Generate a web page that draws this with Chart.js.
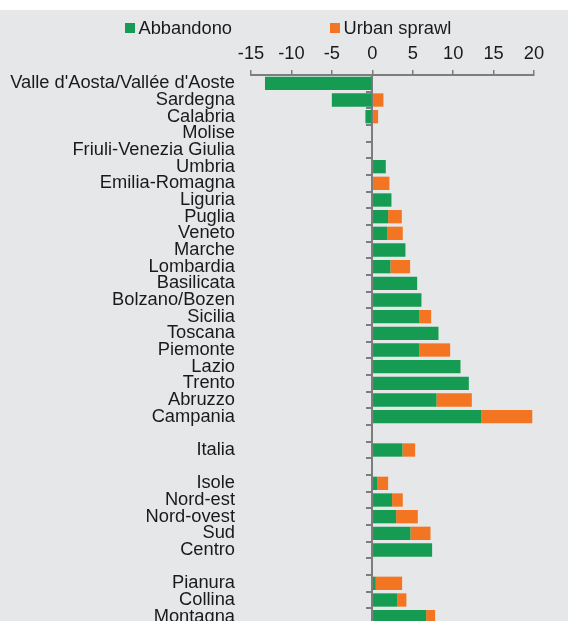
<!DOCTYPE html>
<html>
<head>
<meta charset="utf-8">
<script src="https://cdn.jsdelivr.net/npm/chart.js@4.4.1/dist/chart.umd.min.js"></script>
<style>
  html, body { margin: 0; padding: 0; overflow: hidden; background: #ffffff; }
  canvas { display: block; }
</style>
</head>
<body>
<canvas id="c" width="568" height="640"></canvas>
<script>
const categories = [
  "Valle d'Aosta/Vallée d'Aoste", "Sardegna", "Calabria", "Molise", "Friuli-Venezia Giulia",
  "Umbria", "Emilia-Romagna", "Liguria", "Puglia", "Veneto", "Marche", "Lombardia",
  "Basilicata", "Bolzano/Bozen", "Sicilia", "Toscana", "Piemonte", "Lazio", "Trento",
  "Abruzzo", "Campania", "", "Italia", "", "Isole", "Nord-est", "Nord-ovest", "Sud",
  "Centro", "", "Pianura", "Collina", "Montagna"
];
const abbandono = [
  -13.27, -5.0, -0.85, 0, 0, 1.67, 0, 2.37, 1.96, 1.83, 4.1, 2.24,
  5.55, 6.08, 5.83, 8.19, 5.83, 10.91, 11.94, 7.94, 13.47, null, 3.73, null,
  0.59, 2.45, 2.95, 4.72, 7.40, null, 0.43, 3.07, 6.66
];
const urbanSprawl = [
  0, 1.38, 0.72, 0, 0, 0, 2.12, 0, 1.69, 1.94, 0, 2.44,
  0, 0, 1.45, 0, 3.8, 0, 0, 4.37, 6.32, null, 1.57, null,
  1.37, 1.32, 2.68, 2.48, 0, null, 3.26, 1.15, 1.11
];
const seriesNames = ["Abbandono", "Urban sprawl"];
const xTickMin = -15, xTickMax = 20, xTickStep = 5;

const GREEN = '#169b53';
const ORANGE = '#f37521';
const AXIS = '#7d7d7d';
const TEXT = '#1a1a1a';
const FONT = "'Liberation Sans', Arial, Helvetica, sans-serif";
const FSIZE = 18.3;

const backgroundPlugin = {
  id: 'bg',
  beforeDraw(chart) {
    const ctx = chart.ctx;
    ctx.save();
    ctx.fillStyle = '#ffffff';
    ctx.fillRect(0, 0, chart.width, chart.height);
    ctx.fillStyle = '#e6e7e9';
    ctx.fillRect(0, 10, chart.width, chart.height - 10);
    ctx.restore();
  }
};

const legendPlugin = {
  id: 'customLegend',
  afterDraw(chart) {
    const ctx = chart.ctx;
    ctx.save();
    ctx.font = FSIZE + "px " + FONT;
    ctx.textBaseline = 'alphabetic';
    ctx.textAlign = 'left';
    const items = [
      { x: 125, color: chart.data.datasets[0].backgroundColor, text: chart.data.datasets[0].label },
      { x: 330, color: chart.data.datasets[1].backgroundColor, text: chart.data.datasets[1].label }
    ];
    items.forEach(it => {
      ctx.fillStyle = it.color;
      ctx.fillRect(it.x, 23, 10, 10);
      ctx.fillStyle = TEXT;
      ctx.fillText(it.text, it.x + 13.5, 34);
    });
    ctx.restore();
  }
};

new Chart(document.getElementById('c'), {
  type: 'bar',
  data: {
    labels: categories,
    datasets: [
      { label: seriesNames[0], data: abbandono, backgroundColor: GREEN, borderWidth: 0,
        barPercentage: 0.8, categoryPercentage: 1.0 },
      { label: seriesNames[1], data: urbanSprawl, backgroundColor: ORANGE, borderWidth: 0,
        barPercentage: 0.8, categoryPercentage: 1.0 }
    ]
  },
  options: {
    indexAxis: 'y',
    responsive: false,
    maintainAspectRatio: false,
    animation: false,
    devicePixelRatio: 1,
    layout: { padding: { left: 0, right: 34, top: 35, bottom: 15 } },
    plugins: {
      legend: { display: false },
      tooltip: { enabled: false }
    },
    scales: {
      x: {
        type: 'linear',
        position: 'top',
        stacked: true,
        min: xTickMin,
        max: xTickMax,
        ticks: {
          stepSize: xTickStep,
          color: TEXT,
          font: { family: FONT, size: FSIZE },
          padding: 5
        },
        grid: {
          drawOnChartArea: false,
          drawTicks: true,
          tickLength: 5,
          color: AXIS,
          lineWidth: 1.5
        },
        border: { display: true, color: AXIS, width: 2 },
        afterFit(scale) { scale.height = 40; }
      },
      y: {
        type: 'category',
        position: 'left',
        stacked: true,
        offset: true,
        ticks: {
          autoSkip: false,
          color: TEXT,
          font: { family: FONT, size: FSIZE },
          padding: 16
        },
        grid: { display: false, drawTicks: false },
        border: { display: false },
        afterFit(scale) {
          scale.width = 251;
          scale.paddingTop = 0;
          scale.paddingBottom = 0;
        }
      },
      y2: {
        type: 'category',
        axis: 'y',
        position: { x: 0 },
        offset: true,
        ticks: { display: false },
        grid: {
          offset: true,
          drawOnChartArea: false,
          drawTicks: true,
          tickLength: 5,
          color: AXIS,
          lineWidth: 2
        },
        border: { display: true, color: AXIS, width: 2 }
      }
    }
  },
  plugins: [backgroundPlugin, legendPlugin]
});
</script>
</body>
</html>
